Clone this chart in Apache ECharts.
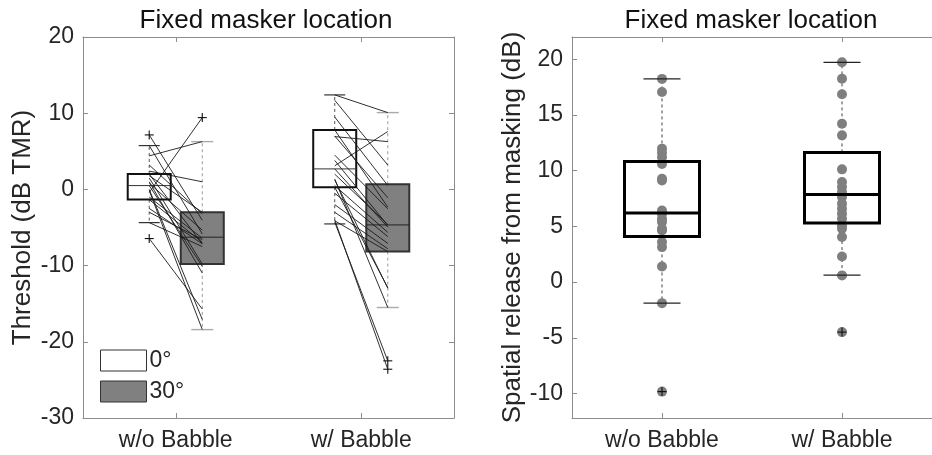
<!DOCTYPE html>
<html>
<head>
<meta charset="utf-8">
<script src="https://cdn.jsdelivr.net/npm/echarts@6/dist/echarts.min.js"></script>
<style>
html, body { margin: 0; padding: 0; background: #fff; }
#main { width: 932px; height: 455px; }
</style>
</head>
<body>
<div id="main"></div>
<script>
var categories = ['w/o Babble', 'w/ Babble'];

// box stats per category: [low whisker, q1, median, q3, high whisker]
var box0deg = [[-4.36, -1.34, 0.5, 2.03, 5.75], [-4.53, 0.29, 2.69, 7.8, 12.4]];
var box30deg = [[-18.4, -9.78, -6.27, -3.0, 6.27], [-15.5, -8.16, -4.66, 0.68, 10.08]];
var outliers0deg = [[7.15, -6.45], []];
var outliers30deg = [[9.42], [-22.5, -23.6]];

// individual listeners, threshold at 0 deg and 30 deg
var woBabble0 = [7.15, 5.75, 4.4, -0.4, 2.4, -6.45, -0.16, 0.0, -4.36, 2.0, 1.0, 0.5, 1.8, 3.2, -1.34, 0.8, -1.0, -2.5, -3.0, 1.5];
var woBabble30 = [-4.05, -5.85, 6.27, 9.42, 1.0, -15.7, -18.4, -17.07, -7.5, -7.13, -10.98, -10.1, -3.0, -3.2, -6.95, -5.34, -6.4, -7.14, -6.6, -9.78];
var wBabble0 = [12.4, 11.7, 3.1, 6.93, -4.0, -4.3, 1.36, 1.25, 0.29, 7.8, 9.5, 7.0, 2.69, 4.5, 2.0, 0.5, -0.5, -2.0, -3.0, -4.12, 3.8];
var wBabble30 = [10.08, 3.2, 7.6, 6.27, -23.6, -22.5, -15.5, -12.97, -12.88, -2.32, 0.52, -1.09, -4.95, -2.54, -4.59, -5.64, -6.19, -7.09, -7.79, -8.16, -4.73];

// spatial release from masking
var srmBox = [[-1.89, 4.1, 6.2, 10.83, 18.24], [0.63, 5.3, 7.87, 11.64, 19.73]];
var srmOutliers = [[-9.83], [-4.49]];
var srmWoBabble = [18.24, 17.07, 11.98, 11.6, 11.2, 10.6, 9.28, 9.13, 6.43, 6.14, 5.69, 5.39, 4.79, 4.64, 3.6, 3.14, 1.4, -1.89, -9.83];
var srmWBabble = [19.73, 18.26, 16.86, 14.22, 13.17, 10.12, 8.98, 8.53, 8.09, 7.64, 7.04, 6.59, 6.14, 5.69, 5.09, 4.79, 4.04, 2.30, 0.6, -4.49];

var leftTicks = [-30, -20, -10, 0, 10, 20];
var rightTicks = [-10, -5, 0, 5, 10, 15, 20];

var font = "'Liberation Sans', Arial, sans-serif";
var axisGray = '#8c8c8c';
var textColor = '#262626';
var off = 0.143; // 0 / 30 deg offset from category centre

function boxRender(o) {
    return function (params, api) {
        var x = api.value(0);
        var lo = api.coord([x, api.value(1)]);
        var q1 = api.coord([x, api.value(2)]);
        var md = api.coord([x, api.value(3)]);
        var q3 = api.coord([x, api.value(4)]);
        var hi = api.coord([x, api.value(5)]);
        var cx = lo[0];
        var kids = [];
        if (o.whisker) {
            var ws = { stroke: o.whiskerColor, lineWidth: 1, lineDash: [3, 3] };
            kids.push({ type: 'line', shape: { x1: cx, y1: q3[1], x2: cx, y2: hi[1] }, style: ws });
            kids.push({ type: 'line', shape: { x1: cx, y1: q1[1], x2: cx, y2: lo[1] }, style: ws });
        }
        if (o.box) {
            kids.push({ type: 'rect', shape: { x: cx - o.halfW, y: q3[1], width: 2 * o.halfW, height: q1[1] - q3[1] },
                style: { fill: o.fill, stroke: o.boxColor, lineWidth: o.boxWidth } });
            kids.push({ type: 'line', shape: { x1: cx - o.halfW, y1: md[1], x2: cx + o.halfW, y2: md[1] },
                style: { stroke: o.medianColor, lineWidth: o.medianWidth } });
        }
        if (o.caps) {
            var cs = { stroke: o.capColor, lineWidth: o.capWidth };
            kids.push({ type: 'line', shape: { x1: cx - o.capHalf, y1: hi[1], x2: cx + o.capHalf, y2: hi[1] }, style: cs });
            kids.push({ type: 'line', shape: { x1: cx - o.capHalf, y1: lo[1], x2: cx + o.capHalf, y2: lo[1] }, style: cs });
        }
        return { type: 'group', children: kids };
    };
}

function plusRender(params, api) {
    var p = api.coord([api.value(0), api.value(1)]);
    var r = 4.5;
    var s = { stroke: '#111', lineWidth: 1.1 };
    return { type: 'group', children: [
        { type: 'line', shape: { x1: p[0] - r, y1: p[1], x2: p[0] + r, y2: p[1] }, style: s },
        { type: 'line', shape: { x1: p[0], y1: p[1] - r, x2: p[0], y2: p[1] + r }, style: s }
    ] };
}

function lineRender(params, api) {
    var p0 = api.coord([api.value(0), api.value(1)]);
    var p1 = api.coord([api.value(2), api.value(3)]);
    return { type: 'line', shape: { x1: p0[0], y1: p0[1], x2: p1[0], y2: p1[1] },
        style: { stroke: '#1a1a1a', lineWidth: 0.9 } };
}

function boxData(stats, shift) {
    return stats.map(function (s, i) { return [i + 0.5 + shift].concat(s); });
}
function outlierData(list, shift) {
    var out = [];
    list.forEach(function (vals, i) {
        vals.forEach(function (v) { out.push([i + 0.5 + shift, v]); });
    });
    return out;
}
function pairData(a, b, i) {
    return a.map(function (v, k) { return [i + 0.5 - off, v, i + 0.5 + off, b[k]]; });
}
function dotData(vals, i) {
    return vals.map(function (v) { return [i + 0.5, v]; });
}

function xAxisOf(grid, pos, labels) {
    return {
        type: 'value', gridIndex: grid, position: pos, min: 0, max: 2,
        splitLine: { show: false },
        axisLine: { onZero: false, lineStyle: { color: axisGray } },
        axisTick: { inside: true, length: 5, customValues: [0.5, 1.5], lineStyle: { color: axisGray } },
        axisLabel: {
            show: labels, customValues: [0.5, 1.5], margin: 11,
            fontSize: 23, fontFamily: font, color: textColor,
            formatter: function (v) { return categories[Math.round(v - 0.5)]; }
        }
    };
}
function yAxisOf(grid, pos, min, max, ticks, labels, name, gap) {
    return {
        type: 'value', gridIndex: grid, position: pos, min: min, max: max,
        name: labels ? name : '', nameLocation: 'middle', nameGap: gap,
        nameTextStyle: { fontSize: 26, fontFamily: font, color: textColor },
        splitLine: { show: false },
        axisLine: { show: true, onZero: false, lineStyle: { color: axisGray } },
        axisTick: { inside: true, length: 5, customValues: ticks, lineStyle: { color: axisGray } },
        axisLabel: { show: labels, customValues: ticks, margin: 9, fontSize: 23, fontFamily: font, color: textColor }
    };
}

var chart = echarts.init(document.getElementById('main'));

var option = {
    animation: false,
    backgroundColor: '#fff',
    grid: [
        { left: 83, top: 37, width: 371, height: 381 },
        { left: 572, top: 37, width: 370, height: 381 }
    ],
    graphic: [
        { type: 'text', x: 266, y: 8, style: { text: 'Fixed masker location', font: '26px ' + font, fill: '#111', textAlign: 'center', textVerticalAlign: 'top' } },
        { type: 'text', x: 751, y: 8, style: { text: 'Fixed masker location', font: '26px ' + font, fill: '#111', textAlign: 'center', textVerticalAlign: 'top' } }
    ],
    legend: {
        orient: 'vertical', left: 100, top: 349, padding: 0, itemWidth: 46, itemHeight: 21, itemGap: 8,
        selectedMode: false,
        textStyle: { fontSize: 23, fontFamily: font, color: textColor, padding: [0, 0, 0, -2] },
        data: [
            { name: '0°', icon: 'rect', itemStyle: { color: '#fff', borderColor: '#333', borderWidth: 1 } },
            { name: '30°', icon: 'rect', itemStyle: { color: '#808080', borderColor: '#333', borderWidth: 1 } }
        ]
    },
    xAxis: [
        xAxisOf(0, 'bottom', true),
        xAxisOf(0, 'top', false),
        xAxisOf(1, 'bottom', true),
        xAxisOf(1, 'top', false)
    ],
    yAxis: [
        yAxisOf(0, 'left', -30, 20, leftTicks, true, 'Threshold (dB TMR)', 47),
        yAxisOf(0, 'right', -30, 20, leftTicks, false, '', 0),
        yAxisOf(1, 'left', -12.2, 22, rightTicks, true, 'Spatial release from masking (dB)', 43)
    ],
    series: [
        {
            name: '0°', type: 'custom', xAxisIndex: 0, yAxisIndex: 0, z: 2,
            renderItem: boxRender({ whisker: true, box: true, caps: true, halfW: 21.5, capHalf: 10.5,
                whiskerColor: '#555', fill: '#fff', boxColor: '#111', boxWidth: 2,
                medianColor: '#333', medianWidth: 1, capColor: '#333', capWidth: 1.2 }),
            encode: { x: 0, y: [1, 2, 3, 4, 5] },
            data: boxData(box0deg, -off)
        },
        {
            name: '30°', type: 'custom', xAxisIndex: 0, yAxisIndex: 0, z: 2,
            renderItem: boxRender({ whisker: true, box: true, caps: true, halfW: 21.5, capHalf: 11,
                whiskerColor: '#999', fill: '#808080', boxColor: '#333', boxWidth: 2,
                medianColor: '#222', medianWidth: 1, capColor: '#aaa', capWidth: 1.4 }),
            encode: { x: 0, y: [1, 2, 3, 4, 5] },
            data: boxData(box30deg, off)
        },
        {
            name: 'listeners', type: 'custom', xAxisIndex: 0, yAxisIndex: 0, z: 3,
            renderItem: lineRender,
            encode: { x: [0, 2], y: [1, 3] },
            data: pairData(woBabble0, woBabble30, 0).concat(pairData(wBabble0, wBabble30, 1))
        },
        {
            name: 'outliers', type: 'custom', xAxisIndex: 0, yAxisIndex: 0, z: 4,
            renderItem: plusRender,
            encode: { x: 0, y: 1 },
            data: outlierData(outliers0deg, -off).concat(outlierData(outliers30deg, off))
        },
        {
            name: 'srm whiskers', type: 'custom', xAxisIndex: 2, yAxisIndex: 2, z: 2,
            renderItem: boxRender({ whisker: true, box: false, caps: false, whiskerColor: '#444' }),
            encode: { x: 0, y: [1, 2, 3, 4, 5] },
            data: boxData(srmBox, 0)
        },
        {
            name: 'srm dots', type: 'scatter', xAxisIndex: 2, yAxisIndex: 2, z: 3,
            symbolSize: 10,
            itemStyle: { color: '#7f7f7f', opacity: 1 },
            data: dotData(srmWoBabble, 0).concat(dotData(srmWBabble, 1))
        },
        {
            name: 'srm box', type: 'custom', xAxisIndex: 2, yAxisIndex: 2, z: 4,
            renderItem: boxRender({ whisker: false, box: true, caps: true, halfW: 37.5, capHalf: 18.5,
                fill: 'rgba(0,0,0,0)', boxColor: '#000', boxWidth: 3,
                medianColor: '#000', medianWidth: 3, capColor: '#222', capWidth: 1.2 }),
            encode: { x: 0, y: [1, 2, 3, 4, 5] },
            data: boxData(srmBox, 0)
        },
        {
            name: 'srm outliers', type: 'custom', xAxisIndex: 2, yAxisIndex: 2, z: 5,
            renderItem: plusRender,
            encode: { x: 0, y: 1 },
            data: outlierData(srmOutliers, 0)
        }
    ]
};

chart.setOption(option);
</script>
</body>
</html>
